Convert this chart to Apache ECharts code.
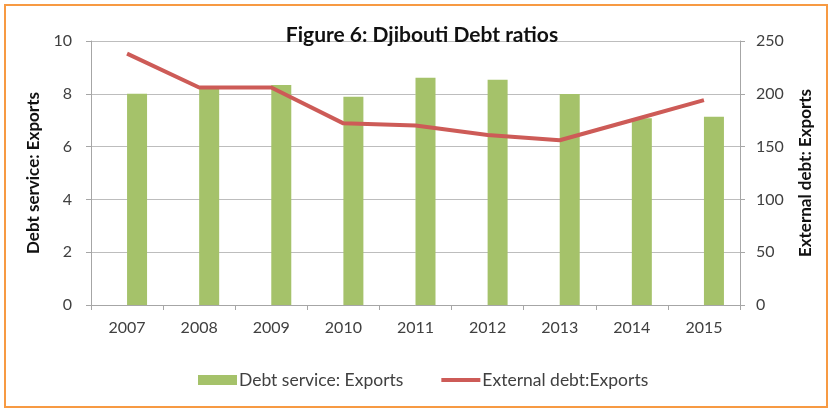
<!DOCTYPE html>
<html>
<head>
<meta charset="utf-8">
<script src="https://cdn.jsdelivr.net/npm/echarts@6/dist/echarts.min.js"></script>
<style>
  html, body { margin: 0; padding: 0; background: #fff; }
  #chart { width: 831px; height: 414px; }
</style>
</head>
<body>
<div id="chart"></div>
<script>
// Djibouti debt ratios, 2007-2015
const years = ['2007', '2008', '2009', '2010', '2011', '2012', '2013', '2014', '2015'];
const debtServiceExports = [8.0, 8.25, 8.33, 7.89, 8.61, 8.53, 7.99, 7.07, 7.13];
const externalDebtExports = [238, 206, 206, 172, 170, 161, 156, 175, 194];
const leftTicks = [0, 2, 4, 6, 8, 10];
const rightTicks = [0, 50, 100, 150, 200, 250];

const FONT = 'Lato, "Open Sans", sans-serif';
const GREEN = '#a5c26a';
const RED = '#cd5b57';
const AXIS_GREY = '#a6a6a6';
const TEXT = '#404040';

const chart = echarts.init(document.getElementById('chart'), null, { renderer: 'canvas' });

chart.setOption({
  animation: false,
  backgroundColor: '#fff',
  textStyle: { fontFamily: FONT },
  title: {
    text: 'Figure 6: Djibouti Debt ratios',
    left: 417, top: 20, textAlign: 'center',
    textStyle: { fontFamily: FONT, fontSize: 21, fontWeight: 'bold', color: '#111' }
  },
  graphic: [{
    type: 'rect',
    shape: { x: 5, y: 5, width: 822, height: 402 },
    style: { fill: 'none', stroke: '#f79a43', lineWidth: 2 },
    silent: true, z: 100
  }],
  legend: {
    bottom: 20, left: 193,
    itemWidth: 39, itemHeight: 10, itemGap: 38,
    textStyle: { fontFamily: FONT, fontSize: 17.5, color: TEXT, padding: [0, 0, 0, -3] },
    data: [
      { name: 'Debt service: Exports', icon: 'rect' },
      { name: 'External debt:Exports', icon: 'path://M0,0L40,0L40,4L0,4Z' }
    ]
  },
  grid: { left: 91, right: 91, top: 41, bottom: 109 },
  xAxis: {
    type: 'category',
    data: years,
    boundaryGap: true,
    axisLine: { lineStyle: { color: AXIS_GREY } },
    axisTick: { show: true, length: 5, lineStyle: { color: AXIS_GREY } },
    axisLabel: { color: TEXT, fontSize: 16, margin: 15, fontFamily: FONT }
  },
  yAxis: [{
    type: 'value', min: leftTicks[0], max: leftTicks[leftTicks.length - 1], interval: 2,
    name: 'Debt service: Exports',
    nameLocation: 'middle', nameGap: 49, nameRotate: 90,
    nameTextStyle: { fontFamily: FONT, fontSize: 17, fontWeight: 'bold', color: '#111' },
    axisLine: { show: true, lineStyle: { color: AXIS_GREY } },
    axisTick: { show: true, length: 5, inside: false, lineStyle: { color: AXIS_GREY } },
    axisLabel: { color: TEXT, fontSize: 16, margin: 19, fontFamily: FONT },
    splitLine: { lineStyle: { color: '#bdbdbd', width: 1 } }
  }, {
    type: 'value', min: rightTicks[0], max: rightTicks[rightTicks.length - 1], interval: 50,
    name: 'External debt: Exports',
    nameLocation: 'middle', nameGap: 57, nameRotate: 90,
    nameTextStyle: { fontFamily: FONT, fontSize: 17, fontWeight: 'bold', color: '#111' },
    axisLine: { show: true, lineStyle: { color: AXIS_GREY } },
    axisTick: { show: true, length: 5, lineStyle: { color: AXIS_GREY } },
    axisLabel: { color: TEXT, fontSize: 16, margin: 16, fontFamily: FONT },
    splitLine: { show: false }
  }],
  series: [{
    // empty placeholder slot: keeps the visible bars to the right of each category centre
    name: 'placeholder',
    type: 'bar',
    yAxisIndex: 0,
    data: years.map(() => '-'),
    barWidth: 20,
    barGap: '0%',
    silent: true
  }, {
    name: 'Debt service: Exports',
    type: 'bar',
    yAxisIndex: 0,
    data: debtServiceExports,
    barWidth: 20,
    barGap: '0%',
    itemStyle: { color: GREEN }
  }, {
    name: 'External debt:Exports',
    type: 'line',
    yAxisIndex: 1,
    data: externalDebtExports,
    symbol: 'none',
    lineStyle: { color: RED, width: 4 },
    itemStyle: { color: RED },
    z: 3
  }]
});
</script>
</body>
</html>
